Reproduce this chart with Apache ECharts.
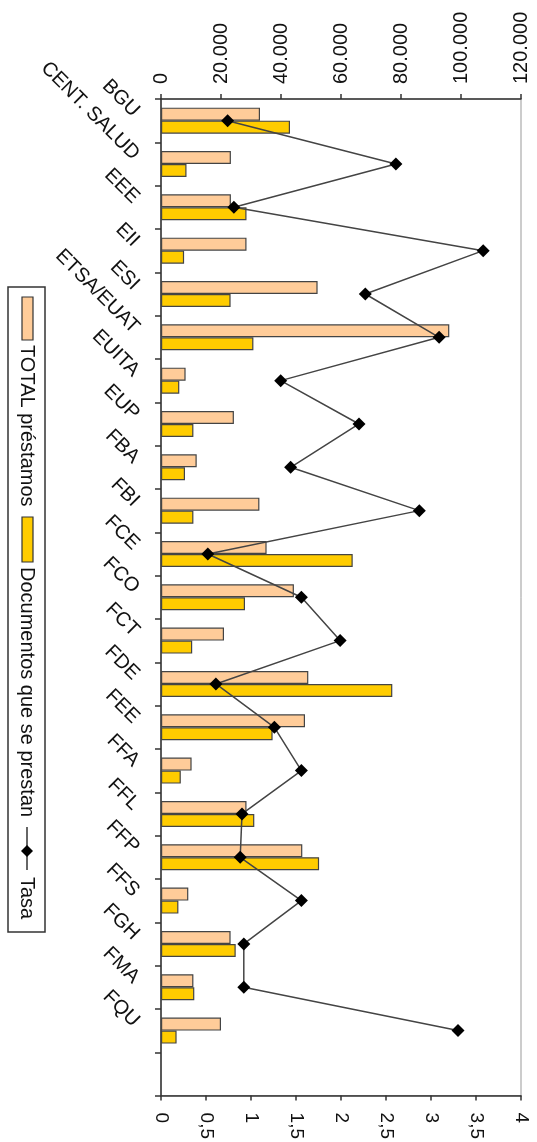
<!DOCTYPE html>
<html>
<head>
<meta charset="utf-8">
<script src="https://cdn.jsdelivr.net/npm/echarts@6/dist/echarts.min.js"></script>
<style>
html,body{margin:0;padding:0;background:#fff;}
#chart{width:537px;height:1142px;}
</style>
</head>
<body>
<div id="chart"></div>
<script>
const categories = ['BGU','CENT. SALUD','EEE','EII','ESI','ETSA/EUAT','EUITA','EUP','FBA','FBI','FCE','FCO','FCT','FDE','FEE','FFA','FFL','FFP','FFS','FGH','FMA','FQU',''];
const totalPrestamos = [33000,23300,23300,28500,52200,96100,8200,24300,11900,32800,35200,44300,21000,49100,48000,10200,28500,47100,9100,23200,10800,20000];
const documentosPrestan = [43000,8500,28500,7700,23200,30800,6100,10800,8000,10800,63900,28000,10400,77100,37200,6600,31100,52700,5800,24900,11100,5200];
const tasa = [0.74,2.61,0.81,3.58,2.27,3.09,1.33,2.20,1.44,2.87,0.52,1.56,1.99,0.61,1.26,1.56,0.90,0.88,1.56,0.92,0.92,3.30];
const seriesNames = ['TOTAL préstamos','Documentos que se prestan','Tasa'];

const FONT = "'Liberation Sans', Arial, sans-serif";
const chart = echarts.init(document.getElementById('chart'), null, {renderer:'canvas'});

function thousand(v){
  if (v === 0) return '0';
  return String(v/1000) + '.000';
}

// legend drawn rotated (reads top to bottom like the reference)
const legendGroup = {
  type: 'group',
  x: 45, y: 287,
  rotation: -Math.PI/2,
  silent: true,
  children: [
    {type:'rect', shape:{x:0,y:0,width:645,height:37}, style:{fill:'#fff', stroke:'#333', lineWidth:1.5}},
    {type:'rect', shape:{x:10,y:12,width:43,height:11}, style:{fill:'#FFCC99', stroke:'#333', lineWidth:1.2}},
    {type:'text', x:58, y:18, style:{text:seriesNames[0], font:'20px '+FONT, fill:'#111', textVerticalAlign:'middle', verticalAlign:'middle'}},
    {type:'rect', shape:{x:230,y:12,width:45,height:11}, style:{fill:'#FFCC00', stroke:'#333', lineWidth:1.2}},
    {type:'text', x:280, y:18, style:{text:seriesNames[1], font:'20px '+FONT, fill:'#111', textVerticalAlign:'middle', verticalAlign:'middle'}},
    {type:'line', shape:{x1:540,y1:18,x2:583,y2:18}, style:{stroke:'#333', lineWidth:1.5}},
    {type:'polygon', shape:{points:[[564,12],[570,18],[564,24],[558,18]]}, style:{fill:'#000'}},
    {type:'text', x:590, y:18, style:{text:seriesNames[2], font:'20px '+FONT, fill:'#111', textVerticalAlign:'middle', verticalAlign:'middle'}}
  ]
};

const option = {
  backgroundColor: '#fff',
  animation: false,
  textStyle: {fontFamily: FONT},
  grid: {left:161, right:16, top:99, bottom:45, show:true, borderColor:'#999', borderWidth:1, backgroundColor:'#fff'},
  xAxis: [
    {
      type:'value', position:'top', min:0, max:120000, interval:20000,
      axisLine:{show:true, lineStyle:{color:'#333', width:1.5}},
      axisTick:{show:true, length:5, lineStyle:{color:'#333', width:1.5}},
      splitLine:{show:false},
      axisLabel:{rotate:-90, margin:15, fontSize:20, color:'#111', fontFamily:FONT, formatter:thousand}
    },
    {
      type:'value', position:'bottom', min:0, max:4, interval:0.5,
      axisLine:{show:true, lineStyle:{color:'#333', width:1.5}},
      axisTick:{show:true, length:5, lineStyle:{color:'#333', width:1.5}},
      splitLine:{show:false},
      axisLabel:{rotate:-90, margin:17, fontSize:19, color:'#111', fontFamily:FONT,
        formatter: v => String(v).replace('.', ',')}
    }
  ],
  yAxis: {
    type:'category', data:categories, inverse:true,
    axisLine:{show:true, lineStyle:{color:'#333', width:1.5}},
    axisTick:{show:true, length:6, lineStyle:{color:'#333', width:1.5}},
    axisLabel:{rotate:-45, margin:32, fontSize:20, color:'#111', fontFamily:FONT, interval:0, verticalAlign:'bottom'}
  },
  series: [
    {
      name:seriesNames[0], type:'bar', xAxisIndex:0, data:totalPrestamos,
      barWidth:13, barGap:'0%',
      itemStyle:{color:'#FFCC99', borderColor:'#444', borderWidth:1.2}
    },
    {
      name:seriesNames[1], type:'bar', xAxisIndex:0, data:documentosPrestan,
      barWidth:13, barGap:'0%',
      itemStyle:{color:'#FFCC00', borderColor:'#444', borderWidth:1.2}
    },
    {
      name:seriesNames[2], type:'line', xAxisIndex:1, data:tasa,
      symbol:'diamond', symbolSize:13,
      lineStyle:{color:'#444', width:1.5},
      itemStyle:{color:'#000'},
      z:5
    }
  ],
  graphic: [legendGroup]
};
chart.setOption(option);
</script>
</body>
</html>
